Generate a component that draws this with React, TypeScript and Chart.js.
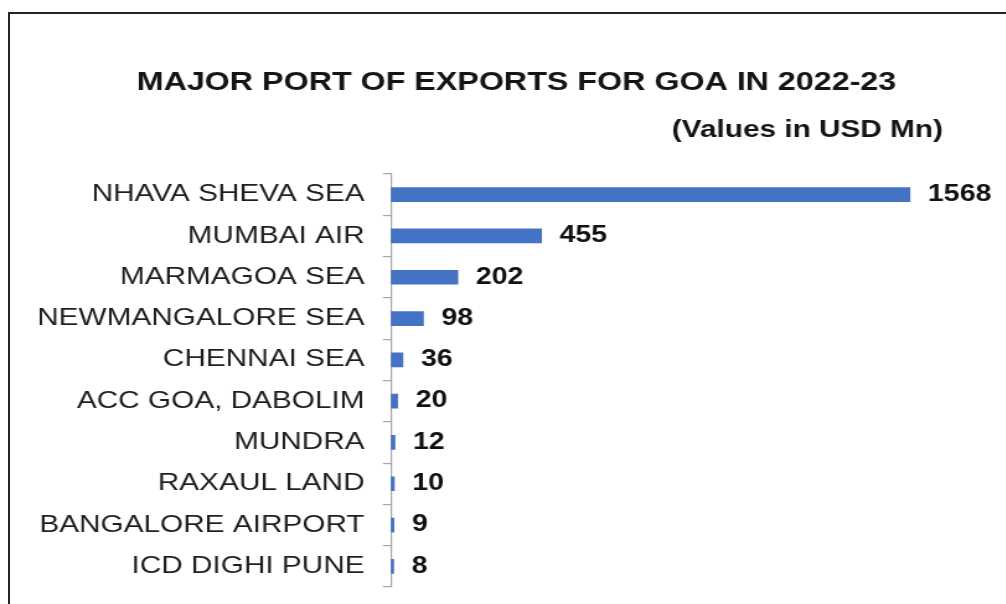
import React, { useEffect, useRef } from "react";
import { Chart, registerables } from "chart.js";

Chart.register(...registerables);

const titleText = "MAJOR PORT OF EXPORTS FOR GOA IN 2022-23";
const subtitleText = "(Values in USD Mn)";
const categories = [
  "NHAVA SHEVA SEA",
  "MUMBAI AIR",
  "MARMAGOA SEA",
  "NEWMANGALORE SEA",
  "CHENNAI SEA",
  "ACC GOA, DABOLIM",
  "MUNDRA",
  "RAXAUL LAND",
  "BANGALORE AIRPORT",
  "ICD DIGHI PUNE",
];
const exportValues = [1568, 455, 202, 98, 36, 20, 12, 10, 9, 8];
const xMax = 1668;

const FONT = "'Liberation Sans', Arial, Helvetica, sans-serif";
const STRETCH = 1.24;
const INNER_W = 811;
const INNER_H = 604;

const headerPlugin = {
  id: "headerText",
  afterDraw(chart: any) {
    const ctx = chart.ctx;
    ctx.save();
    ctx.fillStyle = "#151515";
    ctx.textBaseline = "middle";
    ctx.font = `bold 26px ${FONT}`;
    ctx.textAlign = "center";
    ctx.fillText(titleText, 416.5, 83.2);
    ctx.font = `bold 24px ${FONT}`;
    ctx.textAlign = "right";
    ctx.fillText(subtitleText, chart.chartArea.right, 130.7);
    ctx.restore();
  },
};

const valueLabelPlugin = {
  id: "valueLabels",
  afterDatasetsDraw(chart: any) {
    const ctx = chart.ctx;
    const meta = chart.getDatasetMeta(0);
    const data = chart.data.datasets[0].data as number[];
    ctx.save();
    ctx.font = `bold 23px ${FONT}`;
    ctx.fillStyle = "#111111";
    ctx.textAlign = "left";
    ctx.textBaseline = "middle";
    meta.data.forEach((bar: any, i: number) => {
      ctx.fillText(String(data[i]), bar.x + 14.5, bar.y);
    });
    ctx.restore();
  },
};

export default function App() {
  const canvasRef = useRef<HTMLCanvasElement | null>(null);

  useEffect(() => {
    if (!canvasRef.current) return;
    const chart = new Chart(canvasRef.current, {
      type: "bar",
      data: {
        labels: categories,
        datasets: [
          {
            data: exportValues,
            backgroundColor: "#4472C4",
            borderWidth: 0,
            barThickness: 14,
          },
        ],
      },
      options: {
        indexAxis: "y",
        animation: false,
        responsive: true,
        maintainAspectRatio: false,
        layout: { padding: { left: 25, right: 50.5, top: 174, bottom: 17 } },
        plugins: {
          legend: { display: false },
          tooltip: { enabled: false },
          title: { display: false },
        },
        scales: {
          x: {
            display: false,
            min: 0,
            max: xMax,
          },
          y: {
            grid: {
              display: true,
              drawOnChartArea: false,
              drawTicks: true,
              tickLength: 6.5,
              color: "#a6a6a6",
              lineWidth: 1.2,
            },
            border: { display: true, color: "#a6a6a6", width: 1.2 },
            ticks: {
              color: "#1e1e1e",
              padding: 14.8,
              font: { family: FONT, size: 24 },
            },
            afterFit: (scale: any) => {
              scale.width = 290.3;
              scale.paddingTop = 0;
              scale.paddingBottom = 0;
            },
          },
        },
      },
      plugins: [valueLabelPlugin, headerPlugin],
    });
    return () => chart.destroy();
  }, []);

  return (
    <div
      style={{
        position: "fixed",
        left: 0,
        top: 0,
        width: 1006,
        height: 604,
        overflow: "hidden",
        background: "#ffffff",
      }}
    >
      <div
        style={{
          position: "absolute",
          left: 8,
          top: 11.5,
          width: 2000,
          height: 2000,
          border: "2.5px solid #262626",
          boxSizing: "border-box",
        }}
      />
      <div
        style={{
          position: "absolute",
          left: 0,
          top: 0,
          width: INNER_W,
          height: INNER_H,
          transform: `scaleX(${STRETCH})`,
          transformOrigin: "0 0",
        }}
      >
        <canvas ref={canvasRef} />
      </div>
    </div>
  );
}
